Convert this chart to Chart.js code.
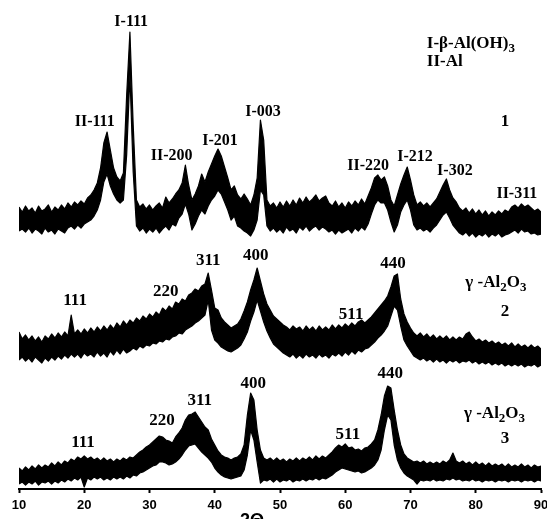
<!DOCTYPE html>
<html>
<head>
<meta charset="utf-8">
<script src="https://cdn.jsdelivr.net/npm/chart.js@4.4.1/dist/chart.umd.min.js"></script>
<style>
  body { margin: 0; background: #fff; }
  #wrap { width: 547px; height: 519px; }
</style>
</head>
<body>
<div id="wrap"><canvas id="xrdChart"></canvas></div>
<script>
// 2θ grid (degrees), one reading every half degree
const THETA = [
  10, 10.5, 11, 11.5, 12, 12.5, 13, 13.5, 14, 14.5,
  15, 15.5, 16, 16.5, 17, 17.5, 18, 18.5, 19, 19.5,
  20, 20.5, 21, 21.5, 22, 22.5, 23, 23.5, 24, 24.5,
  25, 25.5, 26, 26.5, 27, 27.5, 28, 28.5, 29, 29.5,
  30, 30.5, 31, 31.5, 32, 32.5, 33, 33.5, 34, 34.5,
  35, 35.5, 36, 36.5, 37, 37.5, 38, 38.5, 39, 39.5,
  40, 40.5, 41, 41.5, 42, 42.5, 43, 43.5, 44, 44.5,
  45, 45.5, 46, 46.5, 47, 47.5, 48, 48.5, 49, 49.5,
  50, 50.5, 51, 51.5, 52, 52.5, 53, 53.5, 54, 54.5,
  55, 55.5, 56, 56.5, 57, 57.5, 58, 58.5, 59, 59.5,
  60, 60.5, 61, 61.5, 62, 62.5, 63, 63.5, 64, 64.5,
  65, 65.5, 66, 66.5, 67, 67.5, 68, 68.5, 69, 69.5,
  70, 70.5, 71, 71.5, 72, 72.5, 73, 73.5, 74, 74.5,
  75, 75.5, 76, 76.5, 77, 77.5, 78, 78.5, 79, 79.5,
  80, 80.5, 81, 81.5, 82, 82.5, 83, 83.5, 84, 84.5,
  85, 85.5, 86, 86.5, 87, 87.5, 88, 88.5, 89, 89.5,
  90
]

// sample 1: upper and lower edge of the noisy trace (stacked intensity, a.u.)
const HI_1 = [
  282, 277, 283, 278, 281, 276, 283, 278, 280, 284,
  277, 282, 279, 284, 280, 286, 282, 287, 284, 288,
  285, 291, 294, 299, 306, 321, 346, 357, 339, 321,
  312, 308, 316, 394, 457, 364, 289, 282, 285, 280,
  284, 279, 283, 286, 281, 292, 286, 290, 295, 299,
  306, 324, 304, 289, 295, 303, 315, 307, 317, 325,
  333, 340, 333, 322, 311, 299, 303, 294, 290, 295,
  290, 284, 294, 311, 369, 349, 289, 283, 286, 281,
  287, 282, 288, 283, 289, 284, 291, 286, 292, 287,
  290, 294, 288, 291, 293, 286, 283, 288, 282, 286,
  281, 287, 283, 288, 284, 290, 285, 293, 301, 311,
  314, 309, 312, 303, 289, 283, 294, 305, 314, 322,
  309, 294, 284, 287, 283, 286, 282, 286, 290, 297,
  304, 310, 299, 291, 287, 281, 278, 281, 276, 280,
  275, 279, 274, 278, 273, 277, 274, 278, 275, 279,
  277, 282, 284, 281, 285, 282, 284, 281, 278, 280,
  277
]
const LO_1 = [
  258, 260, 257, 261, 256, 260, 258, 255, 261, 257,
  259, 255, 260, 258, 256, 261, 263, 260, 264, 261,
  265, 267, 269, 273, 279, 289, 307, 315, 303, 295,
  289, 286, 289, 334, 414, 317, 263, 258, 261, 256,
  260, 257, 261, 256, 260, 263, 259, 265, 263, 271,
  275, 285, 275, 259, 265, 273, 279, 275, 283, 289,
  293, 299, 295, 287, 279, 269, 273, 263, 261, 258,
  256, 253, 259, 269, 299, 294, 263, 258, 261, 257,
  260, 256, 262, 258, 260, 256, 262, 259, 263, 258,
  261, 263, 259, 262, 260, 257, 259, 255, 259, 256,
  258, 260, 256, 261, 258, 262, 259, 265, 275, 284,
  289, 286, 286, 279, 267, 257, 264, 277, 284, 289,
  279, 264, 259, 261, 258, 260, 257, 261, 264, 269,
  274, 277, 271, 264, 260, 256, 254, 257, 253, 256,
  252, 255, 253, 256, 252, 255, 253, 256, 252, 254,
  255, 257, 259, 256, 260, 257, 258, 255, 256, 254,
  255
]

// sample 2
const HI_2 = [
  157, 150, 154, 149, 153, 148, 152, 147, 153, 150,
  155, 151, 156, 152, 157, 153, 174, 155, 159, 155,
  160, 156, 161, 157, 162, 158, 163, 159, 164, 160,
  166, 162, 168, 164, 169, 166, 171, 168, 173, 170,
  175, 172, 177, 174, 181, 178, 183, 180, 187, 185,
  190, 188, 194, 196, 200, 198, 203, 205, 216, 199,
  181, 179, 171, 167, 164, 161, 163, 165, 170, 178,
  187, 199, 209, 221, 208, 195, 185, 179, 173, 170,
  167, 164, 162, 159, 163, 160, 162, 158, 163, 159,
  162, 158, 163, 159, 162, 159, 164, 160, 164, 161,
  165, 162, 166, 163, 167, 169, 166, 169, 172, 176,
  180, 184, 188, 193, 202, 213, 215, 190, 175, 167,
  161, 156, 153, 156, 152, 155, 151, 154, 150, 153,
  150, 153, 149, 152, 149, 152, 150, 155, 157, 152,
  148, 150, 147, 149, 146, 148, 145, 147, 144, 146,
  143, 146, 142, 145, 142, 144, 141, 144, 141, 143,
  140
]
const LO_2 = [
  129, 132, 128, 131, 127, 132, 129, 126, 131, 128,
  132, 129, 133, 130, 134, 131, 135, 132, 135, 131,
  136, 133, 135, 132, 137, 133, 136, 132, 138, 134,
  139, 135, 140, 136, 138, 141, 139, 143, 141, 144,
  143, 146, 145, 148, 147, 150, 149, 152, 153, 156,
  155, 159, 161, 163, 166, 168, 171, 174, 189, 159,
  149, 146, 142, 140, 138, 137, 139, 141, 144, 150,
  157, 168, 177, 189, 178, 167, 158, 151, 145, 142,
  139, 136, 134, 132, 135, 131, 134, 131, 135, 132,
  134, 131, 135, 132, 134, 131, 135, 133, 136, 133,
  137, 134, 138, 135, 139, 137, 140, 141, 144, 147,
  151, 154, 158, 163, 173, 183, 179, 163, 149, 143,
  138, 133, 131, 129, 131, 128, 130, 127, 130, 127,
  129, 126, 129, 127, 129, 126, 128, 127, 129, 126,
  128, 125, 127, 125, 127, 124, 126, 124, 126, 123,
  125, 123, 125, 123, 125, 122, 124, 123, 125, 122,
  124
]

// sample 3
const HI_3 = [
  21, 18, 22, 19, 23, 20, 24, 21, 24, 22,
  26, 23, 27, 24, 28, 26, 30, 28, 32, 30,
  33, 30, 32, 29, 31, 28, 31, 28, 30, 27,
  30, 28, 31, 29, 32, 31, 34, 37, 39, 42,
  44, 47, 50, 53, 52, 49, 48, 46, 52, 56,
  61, 69, 74, 75, 77, 72, 67, 62, 59, 50,
  44, 38, 34, 32, 31, 29, 31, 32, 35, 44,
  74, 96, 89, 59, 39, 31, 29, 31, 28, 31,
  28, 30, 27, 30, 28, 31, 28, 31, 29, 32,
  29, 33, 30, 33, 31, 34, 37, 41, 44, 42,
  45, 41, 42, 39, 40, 38, 41, 42, 45, 49,
  59, 74, 93, 103, 101, 79, 59, 44, 35, 31,
  29, 27, 28, 26, 28, 25, 27, 25, 27, 25,
  28, 26, 29, 36, 28, 26, 28, 25, 27, 24,
  27, 24, 26, 23, 26, 23, 25, 23, 25, 22,
  25, 22, 24, 22, 25, 22, 24, 21, 24, 22,
  23
]
const LO_3 = [
  5, 7, 4, 7, 5, 8, 4, 7, 6, 8,
  5, 8, 6, 9, 7, 10, 8, 11, 9, 12,
  2, 11, 9, 12, 10, 12, 9, 11, 9, 12,
  10, 12, 10, 13, 11, 14, 13, 16, 17, 19,
  21, 23, 24, 27, 27, 26, 24, 25, 27, 30,
  34, 39, 43, 44, 45, 41, 37, 34, 31, 27,
  21, 17, 14, 12, 11, 10, 11, 12, 13, 19,
  34, 59, 49, 27, 6, 9, 8, 10, 7, 10,
  7, 9, 8, 10, 7, 9, 8, 10, 8, 10,
  9, 11, 9, 11, 10, 12, 14, 17, 19, 21,
  20, 19, 18, 17, 18, 16, 17, 19, 21, 24,
  29, 39, 59, 74, 69, 44, 29, 21, 16, 13,
  11, 9, 5, 9, 8, 9, 8, 10, 8, 9,
  8, 10, 9, 11, 9, 10, 8, 9, 8, 10,
  8, 9, 7, 9, 8, 9, 7, 9, 8, 9,
  7, 9, 8, 9, 7, 9, 8, 9, 7, 9,
  8
]

const X_TICKS = [10, 20, 30, 40, 50, 60, 70, 80, 90]
const X_TITLE = '2Θ'

// peak indexing, placed at [2θ, intensity]
const PEAKS_1 = ['I-111', 'II-111', 'II-200', 'I-201', 'I-003', 'II-220', 'I-212', 'I-302', 'II-311']
const PEAKS_1_AT = [[27.2, 467], [21.6, 367], [33.4, 333], [40.8, 348], [47.4, 377], [63.5, 323], [70.7, 332], [76.8, 318], [86.3, 295]]
const PEAKS_2 = ['111', '220', '311', '400', '511', '440']
const PEAKS_2_AT = [[18.6, 188], [32.5, 197], [39.0, 228], [46.3, 233], [60.9, 174], [67.3, 225]]
const PEAKS_3 = ['111', '220', '311', '400', '511', '440']
const PEAKS_3_AT = [[19.8, 46], [31.9, 68], [37.7, 88], [45.9, 105], [60.4, 54], [66.9, 115]]

const SAMPLE_NAMES = ['1', '2', '3']
const SAMPLE_NAMES_AT = [[84.5, 367], [84.5, 177], [84.5, 50]]

// phase notes: [text, subscript?] pieces
const PHASES = [
  { parts: [['I-β-Al(OH)', false], ['3', true]], at: [72.5, 445] },
  { parts: [['II-Al', false]], at: [72.5, 427] },
  { parts: [['γ -Al', false], ['2', true], ['O', false], ['3', true]], at: [78.4, 206] },
  { parts: [['γ -Al', false], ['2', true], ['O', false], ['3', true]], at: [78.2, 75] }
]

const toPoints = values => values.map((v, i) => ({ x: THETA[i], y: v }))

// one closed outline per trace: along the upper edge, back along the lower one
const band = (hi, lo) => ({
    data: toPoints(hi).concat(toPoints(lo).reverse()),
    borderColor: '#000',
    borderWidth: 1.2,
    pointRadius: 0,
    backgroundColor: '#000',
    fill: 'shape'
})

const drawRich = (ctx, parts, px, py, size) => {
    let cx = px
    parts.forEach(([txt, sub]) => {
        ctx.font = `bold ${sub ? Math.round(size * 0.78) : size}px "Liberation Serif"`
        ctx.fillText(txt, cx, sub ? py + size * 0.3 : py)
        cx += ctx.measureText(txt).width
    })
}

const textPlugin = {
    id: 'xrdText',
    afterDatasetsDraw(chart) {
        const { ctx, scales: { x, y } } = chart
        ctx.save()
        ctx.fillStyle = '#000'
        ctx.textBaseline = 'middle'
        ctx.textAlign = 'center'

        ctx.font = 'bold 16px "Liberation Serif"'
        PEAKS_1.forEach((t, i) => ctx.fillText(t, x.getPixelForValue(PEAKS_1_AT[i][0]), y.getPixelForValue(PEAKS_1_AT[i][1])))

        ctx.font = 'bold 17px "Liberation Serif"'
        PEAKS_2.forEach((t, i) => ctx.fillText(t, x.getPixelForValue(PEAKS_2_AT[i][0]), y.getPixelForValue(PEAKS_2_AT[i][1])))
        PEAKS_3.forEach((t, i) => ctx.fillText(t, x.getPixelForValue(PEAKS_3_AT[i][0]), y.getPixelForValue(PEAKS_3_AT[i][1])))
        SAMPLE_NAMES.forEach((t, i) => ctx.fillText(t, x.getPixelForValue(SAMPLE_NAMES_AT[i][0]), y.getPixelForValue(SAMPLE_NAMES_AT[i][1])))

        ctx.textAlign = 'left'
        PHASES.forEach(p => drawRich(ctx, p.parts, x.getPixelForValue(p.at[0]), y.getPixelForValue(p.at[1]), 17))

        // axis title sits low, partly cut by the page edge
        ctx.textAlign = 'center'
        ctx.textBaseline = 'top'
        ctx.font = 'bold 18px "Liberation Sans"'
        ctx.fillText(X_TITLE, x.getPixelForValue(45.7), chart.chartArea.bottom + 23)
        ctx.restore()
    }
}

const renderXrdChart = () => {
    const data = {
        datasets: [band(HI_1, LO_1), band(HI_2, LO_2), band(HI_3, LO_3)]
    }

    const options = {
        responsive: true,
        maintainAspectRatio: false,
        animation: false,
        layout: { padding: { left: 19, right: 6, top: 0, bottom: 0 } },
        elements: { line: { tension: 0, borderJoinStyle: 'round' } },
        plugins: {
            legend: { display: false },
            tooltip: { enabled: false }
        },
        scales: {
            x: {
                type: 'linear',
                min: 10,
                max: 90,
                afterBuildTicks: scale => { scale.ticks = X_TICKS.map(v => ({ value: v })) },
                afterFit: scale => {
                    scale.height = 30
                    scale.paddingLeft = 0
                    scale.paddingRight = 0
                },
                ticks: {
                    color: '#000',
                    font: { family: '"Liberation Sans"', size: 13, weight: 'bold' },
                    padding: 5,
                    maxRotation: 0,
                    autoSkip: false
                },
                grid: {
                    drawOnChartArea: false,
                    drawTicks: true,
                    tickLength: 4,
                    tickColor: '#000',
                    tickWidth: 2
                },
                border: { display: true, color: '#000', width: 2 }
            },
            y: {
                display: false,
                min: 0,
                max: 489
            }
        }
    }

    new Chart('xrdChart', { type: 'line', data, options, plugins: [textPlugin] })
}

renderXrdChart()
</script>
</body>
</html>
